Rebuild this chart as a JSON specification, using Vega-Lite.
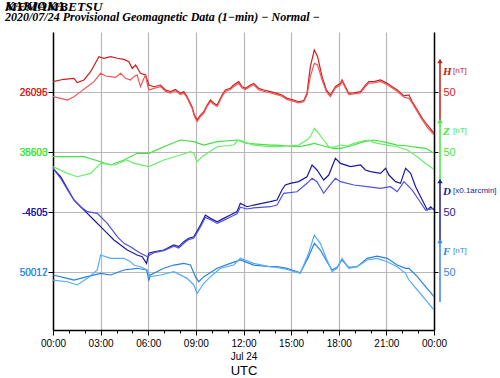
{
  "$schema": "https://vega.github.io/schema/vega-lite/v6.json",
  "width": 381,
  "height": 298,
  "autosize": "none",
  "padding": {"left": 53, "top": 32, "right": 66, "bottom": 48},
  "background": "white",
  "config": {"view": {"stroke": null}},
  "title": {
    "text": ["KAKIOKA", "MEMAMBETSU"],
    "lineHeight": 0.01,
    "subtitle": "2020/07/24  Provisional Geomagnetic Data (1−min)  − Normal −",
    "anchor": "start",
    "frame": "group",
    "dx": -48,
    "offset": 9,
    "font": "Liberation Serif",
    "fontStyle": "italic",
    "fontWeight": "bold",
    "fontSize": 13.5,
    "color": "black",
    "subtitleFont": "Liberation Serif",
    "subtitleFontStyle": "italic",
    "subtitleFontWeight": "bold",
    "subtitleFontSize": 12,
    "subtitleColor": "black",
    "subtitlePadding": -1
  },
  "datasets": {
    "geo": [
      {"s":"H1","t":0,"v":158.6},{"s":"H1","t":0.69,"v":160.6},{"s":"H1","t":1.32,"v":161.4},{"s":"H1","t":1.53,"v":157.8},{"s":"H1","t":1.95,"v":160.0},{"s":"H1","t":2.37,"v":166.9},{"s":"H1","t":2.89,"v":179.4},{"s":"H1","t":3.21,"v":178.1},{"s":"H1","t":3.63,"v":179.4},{"s":"H1","t":4.05,"v":178.1},{"s":"H1","t":4.47,"v":177.2},{"s":"H1","t":4.78,"v":175.3},{"s":"H1","t":4.99,"v":169.7},{"s":"H1","t":5.20,"v":172.5},{"s":"H1","t":5.51,"v":165.6},{"s":"H1","t":5.83,"v":164.2},{"s":"H1","t":6.04,"v":155.8},{"s":"H1","t":6.35,"v":154.4},{"s":"H1","t":6.77,"v":155.8},{"s":"H1","t":7.09,"v":151.7},{"s":"H1","t":7.40,"v":150.3},{"s":"H1","t":7.71,"v":152.2},{"s":"H1","t":8.03,"v":148.9},{"s":"H1","t":8.24,"v":150.3},{"s":"H1","t":8.45,"v":146.1},{"s":"H1","t":8.76,"v":137.8},{"s":"H1","t":8.91,"v":130.8},{"s":"H1","t":9.08,"v":126.7},{"s":"H1","t":9.29,"v":130.8},{"s":"H1","t":9.50,"v":133.6},{"s":"H1","t":9.71,"v":139.2},{"s":"H1","t":9.92,"v":143.3},{"s":"H1","t":10.13,"v":140.6},{"s":"H1","t":10.34,"v":139.2},{"s":"H1","t":10.65,"v":147.5},{"s":"H1","t":10.86,"v":151.7},{"s":"H1","t":11.17,"v":153.1},{"s":"H1","t":11.38,"v":155.8},{"s":"H1","t":11.70,"v":158.6},{"s":"H1","t":11.91,"v":154.4},{"s":"H1","t":12.12,"v":153.1},{"s":"H1","t":12.43,"v":155.8},{"s":"H1","t":12.64,"v":157.2},{"s":"H1","t":12.96,"v":153.1},{"s":"H1","t":13.27,"v":151.7},{"s":"H1","t":13.69,"v":150.3},{"s":"H1","t":14.11,"v":148.9},{"s":"H1","t":14.42,"v":147.5},{"s":"H1","t":14.74,"v":144.7},{"s":"H1","t":15.16,"v":143.3},{"s":"H1","t":15.47,"v":141.9},{"s":"H1","t":15.79,"v":142.8},{"s":"H1","t":16.0,"v":148.9},{"s":"H1","t":16.21,"v":171.1},{"s":"H1","t":16.46,"v":185.0},{"s":"H1","t":16.67,"v":179.4},{"s":"H1","t":16.95,"v":162.8},{"s":"H1","t":17.22,"v":151.7},{"s":"H1","t":17.47,"v":147.5},{"s":"H1","t":17.79,"v":154.4},{"s":"H1","t":18.11,"v":157.2},{"s":"H1","t":18.21,"v":160.0},{"s":"H1","t":18.42,"v":154.4},{"s":"H1","t":18.63,"v":148.9},{"s":"H1","t":18.95,"v":149.4},{"s":"H1","t":19.37,"v":150.3},{"s":"H1","t":19.68,"v":155.8},{"s":"H1","t":19.89,"v":158.6},{"s":"H1","t":20.21,"v":158.6},{"s":"H1","t":20.63,"v":160.0},{"s":"H1","t":21.05,"v":157.2},{"s":"H1","t":21.37,"v":154.4},{"s":"H1","t":21.68,"v":151.7},{"s":"H1","t":22.11,"v":146.7},{"s":"H1","t":22.42,"v":147.5},{"s":"H1","t":22.63,"v":141.9},{"s":"H1","t":22.95,"v":135.0},{"s":"H1","t":23.26,"v":128.1},{"s":"H1","t":23.58,"v":122.5},{"s":"H1","t":24,"v":115.6},

      {"s":"H2","t":0,"v":146.1},{"s":"H2","t":0.48,"v":144.7},{"s":"H2","t":0.90,"v":143.3},{"s":"H2","t":1.32,"v":146.1},{"s":"H2","t":1.74,"v":150.3},{"s":"H2","t":2.16,"v":154.4},{"s":"H2","t":2.58,"v":158.6},{"s":"H2","t":3.00,"v":165.6},{"s":"H2","t":3.31,"v":163.3},{"s":"H2","t":3.63,"v":162.8},{"s":"H2","t":3.94,"v":162.2},{"s":"H2","t":4.26,"v":165.6},{"s":"H2","t":4.57,"v":161.4},{"s":"H2","t":4.88,"v":160.0},{"s":"H2","t":5.09,"v":162.8},{"s":"H2","t":5.30,"v":164.2},{"s":"H2","t":5.51,"v":154.4},{"s":"H2","t":5.68,"v":160.0},{"s":"H2","t":5.83,"v":164.2},{"s":"H2","t":5.93,"v":157.2},{"s":"H2","t":6.04,"v":151.7},{"s":"H2","t":6.35,"v":153.0},{"s":"H2","t":6.77,"v":154.5},{"s":"H2","t":7.09,"v":150.5},{"s":"H2","t":7.40,"v":149.0},{"s":"H2","t":7.71,"v":151.0},{"s":"H2","t":8.03,"v":147.8},{"s":"H2","t":8.24,"v":149.0},{"s":"H2","t":8.45,"v":145.0},{"s":"H2","t":8.76,"v":136.5},{"s":"H2","t":8.91,"v":129.5},{"s":"H2","t":9.08,"v":125.3},{"s":"H2","t":9.29,"v":129.6},{"s":"H2","t":9.50,"v":132.4},{"s":"H2","t":9.71,"v":138.0},{"s":"H2","t":9.92,"v":142.0},{"s":"H2","t":10.13,"v":139.5},{"s":"H2","t":10.34,"v":138.0},{"s":"H2","t":10.65,"v":146.3},{"s":"H2","t":10.86,"v":150.5},{"s":"H2","t":11.17,"v":152.0},{"s":"H2","t":11.38,"v":154.5},{"s":"H2","t":11.70,"v":157.0},{"s":"H2","t":11.91,"v":153.3},{"s":"H2","t":12.12,"v":152.0},{"s":"H2","t":12.43,"v":154.6},{"s":"H2","t":12.64,"v":156.0},{"s":"H2","t":12.96,"v":152.0},{"s":"H2","t":13.27,"v":150.6},{"s":"H2","t":13.69,"v":149.2},{"s":"H2","t":14.11,"v":147.8},{"s":"H2","t":14.42,"v":146.5},{"s":"H2","t":14.74,"v":143.8},{"s":"H2","t":15.16,"v":142.2},{"s":"H2","t":15.47,"v":141.0},{"s":"H2","t":15.79,"v":141.8},{"s":"H2","t":16.0,"v":147.5},{"s":"H2","t":16.21,"v":162.8},{"s":"H2","t":16.46,"v":173.9},{"s":"H2","t":16.67,"v":172.5},{"s":"H2","t":16.95,"v":160.0},{"s":"H2","t":17.22,"v":150.3},{"s":"H2","t":17.47,"v":146.1},{"s":"H2","t":17.79,"v":153.3},{"s":"H2","t":18.11,"v":156.0},{"s":"H2","t":18.21,"v":158.8},{"s":"H2","t":18.42,"v":153.3},{"s":"H2","t":18.63,"v":147.8},{"s":"H2","t":18.95,"v":148.5},{"s":"H2","t":19.37,"v":149.2},{"s":"H2","t":19.68,"v":154.6},{"s":"H2","t":19.89,"v":157.4},{"s":"H2","t":20.21,"v":157.5},{"s":"H2","t":20.63,"v":158.8},{"s":"H2","t":21.05,"v":156.0},{"s":"H2","t":21.37,"v":153.3},{"s":"H2","t":21.68,"v":150.6},{"s":"H2","t":22.11,"v":145.6},{"s":"H2","t":22.42,"v":144.7},{"s":"H2","t":22.63,"v":140.6},{"s":"H2","t":22.95,"v":133.6},{"s":"H2","t":23.26,"v":126.7},{"s":"H2","t":23.58,"v":120.5},{"s":"H2","t":24,"v":114.2},

      {"s":"ZA","t":0,"v":96.1},{"s":"ZA","t":0.90,"v":96.1},{"s":"ZA","t":1.95,"v":96.1},{"s":"ZA","t":3.00,"v":91.9},{"s":"ZA","t":3.63,"v":89.2},{"s":"ZA","t":4.47,"v":93.3},{"s":"ZA","t":5.30,"v":98.9},{"s":"ZA","t":6.04,"v":98.9},{"s":"ZA","t":6.98,"v":104.4},{"s":"ZA","t":8.03,"v":110.0},{"s":"ZA","t":8.87,"v":108.6},{"s":"ZA","t":9.50,"v":105.8},{"s":"ZA","t":10.34,"v":108.6},{"s":"ZA","t":11.59,"v":110.0},{"s":"ZA","t":12.22,"v":107.2},{"s":"ZA","t":13.69,"v":105.8},{"s":"ZA","t":14.11,"v":105.8},{"s":"ZA","t":14.74,"v":105.0},{"s":"ZA","t":15.47,"v":104.4},{"s":"ZA","t":16.0,"v":105.8},{"s":"ZA","t":16.46,"v":107.2},{"s":"ZA","t":17.05,"v":105.0},{"s":"ZA","t":17.68,"v":103.1},{"s":"ZA","t":18.11,"v":103.1},{"s":"ZA","t":18.74,"v":105.0},{"s":"ZA","t":19.58,"v":108.6},{"s":"ZA","t":20.21,"v":110.0},{"s":"ZA","t":21.05,"v":107.8},{"s":"ZA","t":21.68,"v":105.8},{"s":"ZA","t":22.32,"v":105.0},{"s":"ZA","t":22.95,"v":103.9},{"s":"ZA","t":23.47,"v":103.1},{"s":"ZA","t":24,"v":98.9},

      {"s":"ZB","t":0,"v":87.8},{"s":"ZB","t":0.90,"v":82.2},{"s":"ZB","t":1.53,"v":79.4},{"s":"ZB","t":2.37,"v":82.2},{"s":"ZB","t":3.00,"v":90.5},{"s":"ZB","t":3.84,"v":89.2},{"s":"ZB","t":4.68,"v":93.3},{"s":"ZB","t":5.09,"v":90.5},{"s":"ZB","t":6.04,"v":87.8},{"s":"ZB","t":6.98,"v":93.3},{"s":"ZB","t":8.03,"v":97.5},{"s":"ZB","t":8.66,"v":100.3},{"s":"ZB","t":8.87,"v":98.9},{"s":"ZB","t":9.08,"v":91.9},{"s":"ZB","t":9.39,"v":96.1},{"s":"ZB","t":9.71,"v":98.9},{"s":"ZB","t":10.34,"v":104.4},{"s":"ZB","t":11.38,"v":105.8},{"s":"ZB","t":11.70,"v":110.0},{"s":"ZB","t":12.64,"v":105.8},{"s":"ZB","t":13.69,"v":104.4},{"s":"ZB","t":14.11,"v":104.4},{"s":"ZB","t":14.74,"v":105.0},{"s":"ZB","t":15.47,"v":105.8},{"s":"ZB","t":16.0,"v":110.0},{"s":"ZB","t":16.21,"v":112.8},{"s":"ZB","t":16.46,"v":119.7},{"s":"ZB","t":16.74,"v":115.5},{"s":"ZB","t":17.05,"v":110.0},{"s":"ZB","t":17.37,"v":104.4},{"s":"ZB","t":17.68,"v":103.9},{"s":"ZB","t":18.11,"v":105.8},{"s":"ZB","t":18.53,"v":105.0},{"s":"ZB","t":18.95,"v":107.2},{"s":"ZB","t":19.58,"v":109.4},{"s":"ZB","t":19.89,"v":110.0},{"s":"ZB","t":20.21,"v":107.8},{"s":"ZB","t":20.63,"v":106.7},{"s":"ZB","t":21.05,"v":105.8},{"s":"ZB","t":21.68,"v":104.4},{"s":"ZB","t":22.32,"v":101.7},{"s":"ZB","t":22.95,"v":96.1},{"s":"ZB","t":23.47,"v":90.5},{"s":"ZB","t":24,"v":85.5},

      {"s":"D1","t":0,"v":86.4},{"s":"D1","t":0.48,"v":79.4},{"s":"D1","t":0.90,"v":69.7},{"s":"D1","t":1.32,"v":60.0},{"s":"D1","t":1.74,"v":54.4},{"s":"D1","t":2.16,"v":48.9},{"s":"D1","t":2.58,"v":43.3},{"s":"D1","t":3.00,"v":37.8},{"s":"D1","t":3.42,"v":32.2},{"s":"D1","t":3.84,"v":26.7},{"s":"D1","t":4.26,"v":22.5},{"s":"D1","t":4.68,"v":18.3},{"s":"D1","t":5.30,"v":14.2},{"s":"D1","t":5.62,"v":12.8},{"s":"D1","t":5.89,"v":7.2},{"s":"D1","t":6.04,"v":15.6},{"s":"D1","t":6.35,"v":16.9},{"s":"D1","t":6.98,"v":18.3},{"s":"D1","t":7.61,"v":22.5},{"s":"D1","t":7.92,"v":21.1},{"s":"D1","t":8.24,"v":25.3},{"s":"D1","t":8.55,"v":28.1},{"s":"D1","t":8.87,"v":29.4},{"s":"D1","t":9.29,"v":39.2},{"s":"D1","t":9.60,"v":47.5},{"s":"D1","t":9.92,"v":44.7},{"s":"D1","t":10.34,"v":41.9},{"s":"D1","t":10.75,"v":44.7},{"s":"D1","t":11.17,"v":47.5},{"s":"D1","t":11.59,"v":50.3},{"s":"D1","t":11.80,"v":57.2},{"s":"D1","t":12.22,"v":54.4},{"s":"D1","t":12.64,"v":55.8},{"s":"D1","t":13.69,"v":58.6},{"s":"D1","t":14.11,"v":60.0},{"s":"D1","t":14.42,"v":68.3},{"s":"D1","t":14.63,"v":72.5},{"s":"D1","t":14.95,"v":73.9},{"s":"D1","t":15.47,"v":75.3},{"s":"D1","t":16.0,"v":79.4},{"s":"D1","t":16.32,"v":89.2},{"s":"D1","t":16.63,"v":85.0},{"s":"D1","t":17.05,"v":76.7},{"s":"D1","t":17.37,"v":80.8},{"s":"D1","t":17.79,"v":94.7},{"s":"D1","t":18.11,"v":90.5},{"s":"D1","t":18.74,"v":87.8},{"s":"D1","t":19.37,"v":89.2},{"s":"D1","t":19.68,"v":85.0},{"s":"D1","t":20.0,"v":83.6},{"s":"D1","t":20.63,"v":82.2},{"s":"D1","t":20.95,"v":86.4},{"s":"D1","t":21.16,"v":80.8},{"s":"D1","t":21.58,"v":75.3},{"s":"D1","t":21.89,"v":73.9},{"s":"D1","t":22.21,"v":86.4},{"s":"D1","t":22.53,"v":82.2},{"s":"D1","t":22.84,"v":71.1},{"s":"D1","t":23.26,"v":60.0},{"s":"D1","t":23.58,"v":51.7},{"s":"D1","t":23.79,"v":54.4},{"s":"D1","t":24,"v":51.7},

      {"s":"D2","t":0,"v":86.4},{"s":"D2","t":0.48,"v":78.1},{"s":"D2","t":0.90,"v":68.9},{"s":"D2","t":1.32,"v":60.0},{"s":"D2","t":1.74,"v":54.4},{"s":"D2","t":2.16,"v":50.3},{"s":"D2","t":2.79,"v":48.9},{"s":"D2","t":3.42,"v":40.6},{"s":"D2","t":4.05,"v":29.4},{"s":"D2","t":4.47,"v":23.9},{"s":"D2","t":4.88,"v":21.1},{"s":"D2","t":5.51,"v":15.6},{"s":"D2","t":5.93,"v":12.8},{"s":"D2","t":6.35,"v":16.1},{"s":"D2","t":6.98,"v":17.8},{"s":"D2","t":7.61,"v":21.5},{"s":"D2","t":7.92,"v":20.0},{"s":"D2","t":8.24,"v":24.0},{"s":"D2","t":8.55,"v":27.0},{"s":"D2","t":8.87,"v":28.3},{"s":"D2","t":9.29,"v":37.5},{"s":"D2","t":9.60,"v":45.5},{"s":"D2","t":9.92,"v":43.5},{"s":"D2","t":10.34,"v":40.5},{"s":"D2","t":10.75,"v":43.0},{"s":"D2","t":11.17,"v":45.8},{"s":"D2","t":11.59,"v":48.5},{"s":"D2","t":11.80,"v":54.0},{"s":"D2","t":12.22,"v":52.5},{"s":"D2","t":12.64,"v":53.5},{"s":"D2","t":13.69,"v":54.4},{"s":"D2","t":14.11,"v":55.8},{"s":"D2","t":14.53,"v":65.6},{"s":"D2","t":15.37,"v":66.9},{"s":"D2","t":16.0,"v":73.9},{"s":"D2","t":16.32,"v":78.1},{"s":"D2","t":16.63,"v":75.3},{"s":"D2","t":17.05,"v":65.6},{"s":"D2","t":17.37,"v":71.1},{"s":"D2","t":17.79,"v":78.1},{"s":"D2","t":18.11,"v":75.3},{"s":"D2","t":18.95,"v":72.5},{"s":"D2","t":19.79,"v":71.1},{"s":"D2","t":20.63,"v":69.7},{"s":"D2","t":21.26,"v":71.1},{"s":"D2","t":21.68,"v":66.9},{"s":"D2","t":22.11,"v":75.3},{"s":"D2","t":22.63,"v":68.3},{"s":"D2","t":23.05,"v":60.0},{"s":"D2","t":23.47,"v":51.7},{"s":"D2","t":24,"v":53.1},

      {"s":"FA","t":0,"v":-2.5},{"s":"FA","t":0.90,"v":-5.3},{"s":"FA","t":1.32,"v":-6.7},{"s":"FA","t":2.16,"v":-3.9},{"s":"FA","t":3.00,"v":-1.1},{"s":"FA","t":3.63,"v":-2.5},{"s":"FA","t":4.47,"v":1.7},{"s":"FA","t":5.30,"v":3.1},{"s":"FA","t":5.89,"v":1.7},{"s":"FA","t":6.04,"v":-6.7},{"s":"FA","t":6.14,"v":-2.5},{"s":"FA","t":6.98,"v":3.1},{"s":"FA","t":7.61,"v":5.8},{"s":"FA","t":8.24,"v":7.2},{"s":"FA","t":8.66,"v":5.8},{"s":"FA","t":8.97,"v":-3.9},{"s":"FA","t":9.18,"v":-8.1},{"s":"FA","t":9.50,"v":-3.9},{"s":"FA","t":10.34,"v":3.1},{"s":"FA","t":11.17,"v":7.2},{"s":"FA","t":11.80,"v":10.0},{"s":"FA","t":12.64,"v":5.8},{"s":"FA","t":13.69,"v":4.4},{"s":"FA","t":14.11,"v":4.4},{"s":"FA","t":14.74,"v":3.1},{"s":"FA","t":15.58,"v":-0.6},{"s":"FA","t":16.1,"v":12.8},{"s":"FA","t":16.46,"v":23.9},{"s":"FA","t":16.84,"v":18.3},{"s":"FA","t":17.26,"v":8.6},{"s":"FA","t":17.58,"v":1.7},{"s":"FA","t":17.89,"v":3.9},{"s":"FA","t":18.21,"v":10.0},{"s":"FA","t":18.63,"v":3.9},{"s":"FA","t":19.16,"v":4.4},{"s":"FA","t":19.79,"v":11.4},{"s":"FA","t":20.42,"v":13.3},{"s":"FA","t":21.05,"v":11.4},{"s":"FA","t":21.68,"v":5.8},{"s":"FA","t":22.21,"v":3.1},{"s":"FA","t":22.42,"v":3.1},{"s":"FA","t":22.95,"v":-3.9},{"s":"FA","t":23.47,"v":-12.2},{"s":"FA","t":24,"v":-20.6},

      {"s":"FB","t":0,"v":-6.7},{"s":"FB","t":0.90,"v":-8.1},{"s":"FB","t":1.53,"v":-10.8},{"s":"FB","t":2.16,"v":-5.3},{"s":"FB","t":2.79,"v":1.7},{"s":"FB","t":3.00,"v":14.2},{"s":"FB","t":3.63,"v":11.4},{"s":"FB","t":4.47,"v":11.4},{"s":"FB","t":4.88,"v":8.6},{"s":"FB","t":5.09,"v":5.8},{"s":"FB","t":5.51,"v":4.4},{"s":"FB","t":5.93,"v":1.7},{"s":"FB","t":6.14,"v":-3.9},{"s":"FB","t":6.77,"v":-2.5},{"s":"FB","t":7.61,"v":0.3},{"s":"FB","t":8.45,"v":-5.3},{"s":"FB","t":8.87,"v":-10.8},{"s":"FB","t":9.08,"v":-17.8},{"s":"FB","t":9.50,"v":-9.4},{"s":"FB","t":9.92,"v":-3.9},{"s":"FB","t":10.55,"v":3.1},{"s":"FB","t":11.38,"v":5.8},{"s":"FB","t":11.80,"v":11.4},{"s":"FB","t":12.64,"v":7.2},{"s":"FB","t":13.69,"v":4.4},{"s":"FB","t":14.11,"v":3.9},{"s":"FB","t":14.74,"v":2.2},{"s":"FB","t":15.58,"v":-1.1},{"s":"FB","t":16.1,"v":15.6},{"s":"FB","t":16.46,"v":30.8},{"s":"FB","t":16.84,"v":23.9},{"s":"FB","t":17.26,"v":10.0},{"s":"FB","t":17.58,"v":0.3},{"s":"FB","t":17.89,"v":3.1},{"s":"FB","t":18.21,"v":11.4},{"s":"FB","t":18.63,"v":3.1},{"s":"FB","t":19.16,"v":4.4},{"s":"FB","t":19.79,"v":10.0},{"s":"FB","t":20.42,"v":11.4},{"s":"FB","t":21.05,"v":8.6},{"s":"FB","t":21.68,"v":4.4},{"s":"FB","t":22.21,"v":-1.1},{"s":"FB","t":22.42,"v":-6.7},{"s":"FB","t":22.95,"v":-15.0},{"s":"FB","t":23.47,"v":-23.3},{"s":"FB","t":24,"v":-31.7}
    ],
    "ann": [
      {"c": "H", "lvl": 150, "u": "[nT]"},
      {"c": "Z", "lvl": 100, "u": "[nT]"},
      {"c": "D", "lvl": 50, "u": "[x0.1arcmin]"},
      {"c": "F", "lvl": 0, "u": "[nT]"}
    ]
  },
  "resolve": {"axis": {"x": "independent", "y": "independent"}},
  "layer": [
    {
      "data": {"name": "geo"},
      "mark": {"type": "line", "strokeWidth": 1.2, "clip": true},
      "encoding": {
        "x": {
          "field": "t", "type": "quantitative",
          "scale": {"domain": [0, 24], "nice": false, "zero": false},
          "axis": {
            "values": [0,1,2,3,4,5,6,7,8,9,10,11,12,13,14,15,16,17,18,19,20,21,22,23,24],
            "labelExpr": "datum.value % 3 != 0 ? '' : (datum.value == 12 ? ['12:00', 'Jul 24'] : ((datum.value % 24) < 10 ? '0' : '') + (datum.value % 24) + ':00')",
            "grid": true,
            "gridColor": "#b8b8b8",
            "gridWidth": 1.2,
            "gridOpacity": {"condition": {"test": "datum.value % 3 == 0", "value": 1}, "value": 0},
            "tickSize": {"condition": {"test": "datum.value % 3 == 0", "value": 5}, "value": 3},
            "tickColor": "black",
            "domainColor": "black",
            "domainWidth": 1.5,
            "labelFont": "Liberation Sans",
            "labelFontSize": 10,
            "labelColor": "black",
            "labelLineHeight": 13,
            "labelPadding": 3,
            "labelOverlap": false,
            "labelFlush": false,
            "title": "UTC",
            "titleFont": "Liberation Sans",
            "titleFontSize": 13,
            "titleFontWeight": "normal",
            "titleColor": "black",
            "titlePadding": 3
          }
        },
        "y": {
          "field": "v", "type": "quantitative",
          "scale": {"domain": [-48.33, 200], "nice": false, "zero": false},
          "axis": {
            "orient": "left",
            "values": [0, 50, 100, 150],
            "labelExpr": "datum.value == 150 ? ['26095', '26096'] : datum.value == 100 ? ['35603', '38600'] : datum.value == 50 ? ['-4605', '-4505'] : ['50017', '50012']",
            "labelLineHeight": 0.01,
            "labelColor": {"condition": [
              {"test": "datum.value == 150", "value": "#e81818"},
              {"test": "datum.value == 100", "value": "#33e833"},
              {"test": "datum.value == 50", "value": "#1414b4"}
            ], "value": "#2b8cf0"},
            "labelFont": "Liberation Sans",
            "labelFontSize": 10,
            "labelPadding": 1,
            "tickSize": 5,
            "tickColor": "black",
            "domainColor": "black",
            "domainWidth": 1.5,
            "grid": true,
            "gridColor": "#b8b8b8",
            "gridWidth": 1.2,
            "title": null
          }
        },
        "color": {
          "field": "s", "type": "nominal", "legend": null,
          "scale": {
            "domain": ["H1","H2","ZA","ZB","D1","D2","FA","FB","H","Z","D","F"],
            "range": ["#d01c1c","#f25555","#44e044","#66f066","#1a1a9e","#5050e0","#2a80e0","#55acf8","#c41a1a","#3ee83e","#1c1c8c","#3388e0"]
          }
        },
        "detail": {"field": "s"}
      }
    },
    {
      "data": {"name": "ann"},
      "mark": {"type": "rule", "strokeWidth": 1.5, "xOffset": 6, "yOffset": 30, "y2Offset": -31},
      "encoding": {
        "x": {"datum": 24, "type": "quantitative", "scale": {"domain": [0, 24], "nice": false, "zero": false}, "axis": null},
        "y": {
          "field": "lvl", "type": "quantitative",
          "scale": {"domain": [-48.33, 200], "nice": false, "zero": false},
          "axis": {
            "orient": "right",
            "values": [0, 50, 100, 150],
            "labelExpr": "'50'",
            "labelColor": {"condition": [
              {"test": "datum.value == 150", "value": "#dd2020"},
              {"test": "datum.value == 100", "value": "#3ee83e"},
              {"test": "datum.value == 50", "value": "#1c1c9c"}
            ], "value": "#3388e0"},
            "labelFont": "Liberation Sans",
            "labelFontSize": 11,
            "labelPadding": 5,
            "tickSize": 4,
            "tickColor": "black",
            "domainColor": "black",
            "domainWidth": 1.5,
            "grid": false,
            "title": null
          }
        },
        "y2": {"field": "lvl"},
        "color": {"field": "c", "type": "nominal", "legend": null}
      }
    },
    {
      "data": {"name": "ann"},
      "mark": {"type": "point", "shape": "triangle-up", "filled": true, "size": 28, "opacity": 1, "xOffset": 6, "yOffset": -31},
      "encoding": {
        "x": {"datum": 24, "type": "quantitative", "scale": {"domain": [0, 24], "nice": false, "zero": false}, "axis": null},
        "y": {"field": "lvl", "type": "quantitative", "scale": {"domain": [-48.33, 200], "nice": false, "zero": false}, "axis": null},
        "color": {"field": "c", "type": "nominal", "legend": null}
      }
    },
    {
      "data": {"name": "ann"},
      "mark": {"type": "text", "font": "Liberation Serif", "fontStyle": "italic", "fontWeight": "bold", "fontSize": 11, "align": "left", "baseline": "middle", "xOffset": 9, "yOffset": -20},
      "encoding": {
        "x": {"datum": 24, "type": "quantitative", "scale": {"domain": [0, 24], "nice": false, "zero": false}, "axis": null},
        "y": {"field": "lvl", "type": "quantitative", "scale": {"domain": [-48.33, 200], "nice": false, "zero": false}, "axis": null},
        "text": {"field": "c"},
        "color": {"field": "c", "type": "nominal", "legend": null}
      }
    },
    {
      "data": {"name": "ann"},
      "mark": {"type": "text", "font": "Liberation Sans", "fontSize": 8, "align": "left", "baseline": "middle", "xOffset": 19, "yOffset": -21},
      "encoding": {
        "x": {"datum": 24, "type": "quantitative", "scale": {"domain": [0, 24], "nice": false, "zero": false}, "axis": null},
        "y": {"field": "lvl", "type": "quantitative", "scale": {"domain": [-48.33, 200], "nice": false, "zero": false}, "axis": null},
        "text": {"field": "u"},
        "color": {"field": "c", "type": "nominal", "legend": null}
      }
    }
  ]
}
